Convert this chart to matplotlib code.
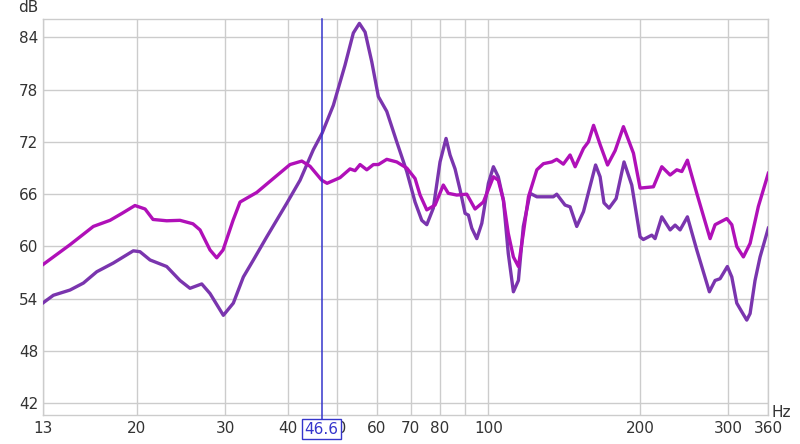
import matplotlib
matplotlib.use("Agg")
import matplotlib.pyplot as plt

# Frequency axis ticks
tick_freqs = [13, 20, 30, 40, 50, 60, 70, 80, 90, 100, 200, 300, 360]
tick_labels = ["13", "20", "30", "40", "50", "60", "70", "80", "", "100", "200", "300", "360"]
db_ticks = [42, 48, 54, 60, 66, 72, 78, 84]

cursor_freq = 46.6

# Magenta trace (Hz, dB)
mag_freq = [13.0, 14.73, 16.39, 17.69, 18.69, 19.83, 20.77, 21.54, 22.93, 24.37,
            25.86, 26.71, 27.96, 28.83, 29.68, 31.07, 32.08, 34.63, 37.36, 40.32,
            42.56, 44.20, 46.63, 47.78, 50.70, 53.07, 54.30, 55.56, 57.30, 59.06,
            60.42, 62.79, 65.73, 68.81, 71.47, 73.13, 75.41, 78.32, 81.34, 83.22,
            86.50, 90.56, 94.06, 97.70, 102.3, 104.6, 107.1, 109.5, 112.1, 114.7,
            117.3, 120.1, 124.8, 128.6, 133.6, 136.7, 140.9, 145.3, 148.7, 154.5,
            158.0, 161.8, 166.7, 172.5, 178.6, 185.5, 194.2, 200.2, 212.8, 221.1,
            229.7, 236.8, 242.3, 248.6, 259.5, 275.8, 282.2, 297.7, 304.6, 311.6,
            321.2, 331.2, 344.0, 360.0]
mag_db = [57.9, 60.2, 62.3, 63.0, 63.8, 64.7, 64.3, 63.1, 62.95, 63.0,
          62.6, 61.9, 59.6, 58.7, 59.6, 63.0, 65.1, 66.2, 67.8, 69.4,
          69.8, 69.2, 67.6, 67.25, 67.9, 68.9, 68.7, 69.4, 68.8, 69.4,
          69.4, 70.0, 69.7, 69.0, 67.8, 65.9, 64.2, 64.75, 67.05, 66.1,
          65.9, 66.0, 64.3, 65.1, 68.0, 67.6, 65.3, 61.5, 58.8, 57.7,
          61.5, 65.7, 68.8, 69.5, 69.7, 70.0, 69.45, 70.5, 69.15, 71.25,
          72.0, 73.9, 71.7, 69.35, 71.0, 73.75, 70.7, 66.7, 66.85, 69.15,
          68.2, 68.8, 68.6, 69.9, 66.1, 60.9, 62.5, 63.2, 62.5, 60.0,
          58.8, 60.35, 64.6, 68.4]

# Purple trace (Hz, dB)
pur_freq = [13.0, 13.65, 14.73, 15.66, 16.65, 17.96, 19.68, 20.29, 21.25, 22.93,
            24.37, 25.51, 26.92, 27.96, 29.72, 31.11, 32.57, 34.10, 36.25, 39.72,
            42.22, 44.86, 46.70, 49.17, 51.86, 53.88, 55.39, 56.86, 58.62, 60.42,
            62.79, 65.73, 68.81, 71.47, 73.70, 75.41, 77.70, 80.12, 82.36, 83.88,
            85.83, 87.82, 89.86, 91.23, 92.66, 94.80, 97.0, 99.97, 102.3, 104.6,
            107.1, 109.5, 112.1, 114.7, 117.3, 121.0, 124.8, 129.6, 134.6, 136.7,
            142.0, 145.3, 149.8, 154.5, 159.2, 163.3, 166.7, 169.7, 173.7, 179.4,
            186.0, 192.7, 200.2, 203.2, 211.2, 214.4, 221.1, 229.7, 235.0, 240.4,
            248.6, 259.5, 274.9, 282.2, 288.7, 298.5, 304.6, 311.6, 318.9, 326.2,
            331.2, 338.8, 346.7, 360.0]
pur_db = [53.5, 54.4, 55.0, 55.8, 57.1, 58.1, 59.5, 59.4, 58.45, 57.7,
          56.1, 55.2, 55.7, 54.6, 52.1, 53.5, 56.5, 58.45, 61.1, 64.95,
          67.6, 71.1, 73.0, 76.2, 80.8, 84.5, 85.6, 84.6, 81.2, 77.2,
          75.5, 72.0, 68.6, 65.1, 63.0, 62.5, 64.4, 69.7, 72.4, 70.5,
          68.9, 66.5, 63.8, 63.6, 62.1, 60.9, 62.65, 67.25, 69.15, 68.0,
          65.3, 59.2, 54.8, 56.1, 62.3, 66.1, 65.7, 65.7, 65.7, 66.0,
          64.75, 64.55, 62.3, 64.0, 66.9, 69.35, 68.0, 65.0, 64.4, 65.5,
          69.7, 67.05, 61.1, 60.8, 61.3, 60.9, 63.4, 61.9, 62.45, 61.9,
          63.4, 59.6, 54.8, 56.1, 56.3, 57.7, 56.5, 53.5, 52.5, 51.55,
          52.3, 56.1, 58.8, 62.1]

MAGENTA = "#b010b8"
PURPLE = "#7a35ae"
BLUE = "#3535cc"
GRID = "#cccccc"
TEXT = "#333333"

plt.rcParams["font.family"] = "DejaVu Sans"

fig = plt.figure(figsize=(8, 4.44), dpi=100)
ax = fig.add_axes([42.7 / 800, 29 / 444, 725.6 / 800, 395.7 / 444])

ax.plot(pur_freq, pur_db, color=PURPLE, lw=2.4, solid_joinstyle="round", zorder=3)
ax.plot(mag_freq, mag_db, color=MAGENTA, lw=2.4, solid_joinstyle="round", zorder=4)

ax.set_xscale("log")
ax.set_xlim(13, 360)
ax.set_ylim(40.66, 86.07)
ax.set_xticks(tick_freqs)
ax.set_xticklabels(tick_labels)
ax.minorticks_off()
ax.set_yticks(db_ticks)
ax.grid(True, color=GRID, lw=1)
ax.set_axisbelow(True)
ax.tick_params(axis="both", length=0, labelsize=11, labelcolor=TEXT)
ax.tick_params(axis="x", pad=4)
ax.tick_params(axis="y", pad=3.2)
for sp in ax.spines.values():
    sp.set_color(GRID)
    sp.set_linewidth(1)

# cursor line with its label
ax.axvline(cursor_freq, ymin=-0.016, ymax=1, color=BLUE, lw=1.1, clip_on=False, zorder=5)
ax.text(cursor_freq, -0.036, f"{cursor_freq}", transform=ax.get_xaxis_transform(),
        ha="center", va="center", fontsize=11, color=BLUE, zorder=10,
        bbox=dict(boxstyle="square,pad=0.15", fc="white", ec=BLUE, lw=1))

fig.text(781 / 800, 1 - 412 / 444, "Hz", ha="center", va="center", fontsize=11, color=TEXT)
fig.text(28.3 / 800, 1 - 7.5 / 444, "dB", ha="center", va="center", fontsize=11, color=TEXT)

fig.savefig("out.png", dpi=100)
